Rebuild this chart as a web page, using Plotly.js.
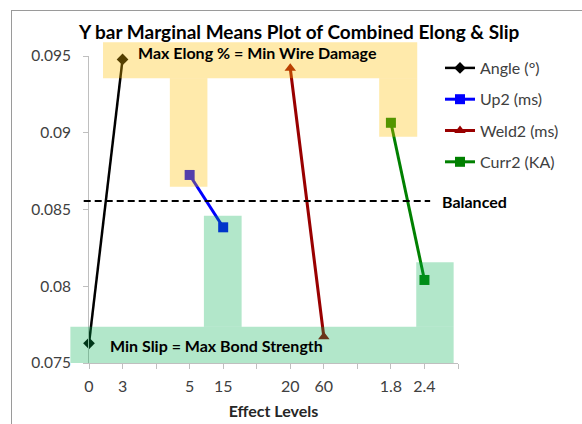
<!DOCTYPE html>
<html>
<head>
<meta charset="utf-8">
<script src="https://cdn.plot.ly/plotly-3.0.1.min.js"></script>
<style>
  html, body { margin: 0; padding: 0; background: #ffffff; }
  #chart { position: absolute; left: 0; top: 0; width: 582px; height: 424px; }
  #frame { position: absolute; left: 11px; top: 10px; width: 620px; height: 460px;
           border-left: 1px solid #9a9a9a; border-top: 1px solid #9a9a9a; pointer-events: none; }
</style>
</head>
<body>
<div id="chart"></div>
<div id="frame"></div>
<script>
// ---- data ----
const factorNames = ['Angle (°)', 'Up2 (ms)', 'Weld2 (ms)', 'Curr2 (KA)'];
const angleLevels = ['0', '3'];
const up2Levels = ['5', '15'];
const weld2Levels = ['20', '60'];
const curr2Levels = ['1.8', '2.4'];
const angleMeans = [0.07628, 0.09478];
const up2Means = [0.08725, 0.08384];
const weld2Means = [0.0942, 0.07671];
const curr2Means = [0.09065, 0.08041];
const balancedLevel = 0.08555;

// ---- styling ----
const lineColors = ['#000000', '#0000ff', '#990000', '#008000'];
const markerSymbols = ['diamond', 'square', 'triangle-up', 'square'];
const markerSizes = [9, 10, 10, 10];
const lineWidths = [2.5, 3, 3, 3];

const levelSets = [angleLevels, up2Levels, weld2Levels, curr2Levels];
const meanSets = [angleMeans, up2Means, weld2Means, curr2Means];
const slot = 3; // each factor occupies 2 level slots + 1 gap on the x axis

const XMAX = 11, YMIN = 0.075, YMAX = 0.095;
const px = u => u / XMAX;
const py = v => (v - YMIN) / (YMAX - YMIN);

const traces = factorNames.map((name, i) => ({
  type: 'scatter',
  mode: 'lines+markers',
  name: name,
  legendgroup: 'g' + i,
  x: levelSets[i].map((_, j) => i * slot + j),
  y: meanSets[i],
  line: { color: lineColors[i], width: lineWidths[i] },
  marker: { color: lineColors[i], symbol: markerSymbols[i], size: markerSizes[i] },
  cliponaxis: false
}));

// tick labels from the level arrays
const tickVals = [];
const tickText = [];
for (let k = 0; k <= XMAX; k++) {
  tickVals.push(k);
  const g = Math.floor(k / slot), j = k % slot;
  tickText.push(g < levelSets.length && j < levelSets[g].length ? levelSets[g][j] : '');
}

const yellow = '#FFC000', green = '#00B050';
function box(x0, x1, y0, y1, color) {
  return { type: 'rect', xref: 'paper', yref: 'paper', layer: 'above',
           x0: px(x0), x1: px(x1), y0: py(y0), y1: py(y1),
           fillcolor: color, opacity: color === yellow ? 0.33 : 0.3, line: { width: 0 } };
}

const shapes = [
  // Max elongation zone
  box(0.418, 9.785, 0.09355, 0.09589, yellow),
  box(2.41, 3.53, 0.08649, 0.09355, yellow),
  box(8.65, 9.785, 0.08974, 0.09355, yellow),
  // Min slip zone
  box(-0.555, 10.87, 0.0750, 0.07736, green),
  box(3.425, 4.55, 0.07736, 0.0846, green),
  box(9.755, 10.87, 0.07736, 0.08156, green),
  // balanced line
  { type: 'line', xref: 'paper', yref: 'paper', layer: 'above',
    x0: px(-0.158), x1: px(10.17), y0: py(balancedLevel), y1: py(balancedLevel),
    line: { color: '#000000', width: 2, dash: '7px,4px' } }
];

const FAM = 'Lato, "Open Sans", sans-serif';
const annFont = { family: FAM, size: 16, color: '#000000' };
const annotations = [
  { xref: 'paper', yref: 'paper', x: px(5.01), y: py(0.0952), text: '<b>Max Elong % = Min Wire Damage</b>',
    showarrow: false, xanchor: 'center', yanchor: 'middle', font: annFont },
  { xref: 'paper', yref: 'paper', x: px(3.79), y: py(0.07617), text: '<b>Min Slip = Max Bond Strength</b>',
    showarrow: false, xanchor: 'center', yanchor: 'middle', font: annFont },
  { xref: 'paper', yref: 'paper', x: px(10.47), y: py(balancedLevel), text: '<b>Balanced</b>',
    showarrow: false, xanchor: 'left', yanchor: 'middle', font: { family: FAM, size: 16, color: '#000000' } }
];

const tickFont = { family: FAM, size: 16, color: '#404040' };
const yTickFont = { family: FAM, size: 15.5, color: '#404040' };

const layout = {
  width: 582, height: 424,
  margin: { l: 89, r: 124, t: 56, b: 61 },
  paper_bgcolor: 'rgba(0,0,0,0)',
  plot_bgcolor: 'rgba(0,0,0,0)',
  title: {
    text: '<b>Y bar Marginal Means Plot of Combined Elong & Slip</b>',
    font: { family: FAM, size: 19, color: '#000000' },
    xref: 'container', yref: 'container', x: 0.514, y: 1 - 32 / 424,
    xanchor: 'center', yanchor: 'middle'
  },
  xaxis: {
    range: [0, XMAX], tickmode: 'array', tickvals: tickVals, ticktext: tickText,
    showgrid: false, zeroline: false, showline: true, linecolor: '#bfbfbf', linewidth: 1,
    ticks: 'outside', ticklen: 5, tickcolor: '#bfbfbf', tickfont: tickFont, ticklabelstandoff: 4,
    title: { text: '<b>Effect Levels</b>', font: { family: FAM, size: 16, color: '#262626' }, standoff: 11 }
  },
  yaxis: {
    range: [YMIN, YMAX], tickmode: 'array', tickvals: [0.075, 0.08, 0.085, 0.09, 0.095],
    ticktext: ['0.075', '0.08', '0.085', '0.09', '0.095'],
    showgrid: false, zeroline: false, showline: true, linecolor: '#bfbfbf', linewidth: 1,
    ticks: 'outside', ticklen: 5, tickcolor: '#bfbfbf', tickfont: yTickFont, ticklabelstandoff: 9
  },
  legend: {
    x: (440 - 89) / 369, y: (363 - 51) / 307, xanchor: 'left', yanchor: 'top',
    bgcolor: 'rgba(0,0,0,0)', font: { family: FAM, size: 16, color: '#404040' },
    tracegroupgap: 7.5, traceorder: 'grouped'
  },
  showlegend: true,
  shapes: shapes,
  annotations: annotations
};

Plotly.newPlot('chart', traces, layout, { staticPlot: true, displayModeBar: false });
</script>
</body>
</html>
